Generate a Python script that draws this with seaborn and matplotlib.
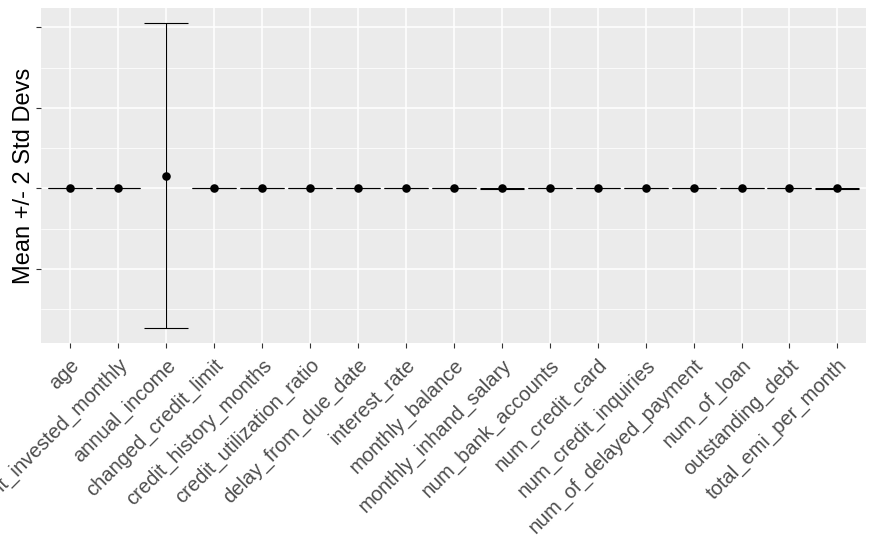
import numpy as np
import pandas as pd
import seaborn as sns
import matplotlib.pyplot as plt
from matplotlib.ticker import MultipleLocator, NullFormatter

categories = ["age", "amount_invested_monthly", "annual_income", "changed_credit_limit",
              "credit_history_months", "credit_utilization_ratio", "delay_from_due_date",
              "interest_rate", "monthly_balance", "monthly_inhand_salary", "num_bank_accounts",
              "num_credit_card", "num_credit_inquiries", "num_of_delayed_payment", "num_of_loan",
              "outstanding_debt", "total_emi_per_month"]
means = [33, 640, 160000, 10, 221, 32, 21, 72, 400, 4200, 17, 22, 27, 31, 3, 1426, 1400]
sds = [10, 500, 945000, 6.7, 99, 5, 15, 466, 210, 3200, 117, 129, 191, 226, 62, 1155, 3000]

df = pd.DataFrame({"variable": categories, "mean": means, "sd": sds})
df["lo"] = df["mean"] - 2 * df["sd"]
df["hi"] = df["mean"] + 2 * df["sd"]

sns.set_theme(style="darkgrid", rc={
    "axes.facecolor": "#EBEBEB",
    "grid.color": "white",
    "figure.facecolor": "white",
})
plt.rcParams["font.family"] = ["Liberation Sans", "DejaVu Sans"]

fig, ax = plt.subplots(figsize=(8.75, 5.4), dpi=100)
fig.subplots_adjust(left=0.047, right=0.99, top=0.985, bottom=0.365)

ax.errorbar(df["variable"], df["mean"], yerr=2 * df["sd"], fmt="none",
            ecolor="black", elinewidth=0.8, capsize=15.5, capthick=0.8, zorder=2)
sns.scatterplot(data=df, x="variable", y="mean", color="black", s=38,
                linewidth=0, ax=ax, zorder=3)

ax.set_xlim(-0.6, len(categories) - 0.4)
lo, hi = df["lo"].min(), df["hi"].max()
pad = 0.05 * (hi - lo)
ax.set_ylim(lo - pad, hi + pad)

ax.yaxis.set_major_locator(MultipleLocator(1e6))
ax.yaxis.set_minor_locator(MultipleLocator(5e5))
ax.yaxis.set_major_formatter(NullFormatter())

ax.grid(which="major", color="white", lw=1.1)
ax.grid(which="minor", axis="y", color="white", lw=0.55)
ax.grid(which="minor", axis="x", visible=False)
ax.set_axisbelow(True)
ax.tick_params(axis="both", which="major", length=3.5, width=0.8, color="#333333",
               left=True, bottom=True, pad=5.5)
ax.tick_params(axis="both", which="minor", length=0)
for s in ax.spines.values():
    s.set_visible(False)

ax.set_xlabel("")
ax.set_ylabel("Mean +/- 2 Std Devs", fontsize=17, color="black")
ax.yaxis.set_label_coords(-0.008, 0.5)

for lab in ax.get_xticklabels():
    lab.set_rotation(45)
    lab.set_ha("right")
    lab.set_va("top")
    lab.set_rotation_mode("anchor")
    lab.set_fontsize(14.5)
    lab.set_color("#4D4D4D")

fig.savefig("out.png", dpi=100)
